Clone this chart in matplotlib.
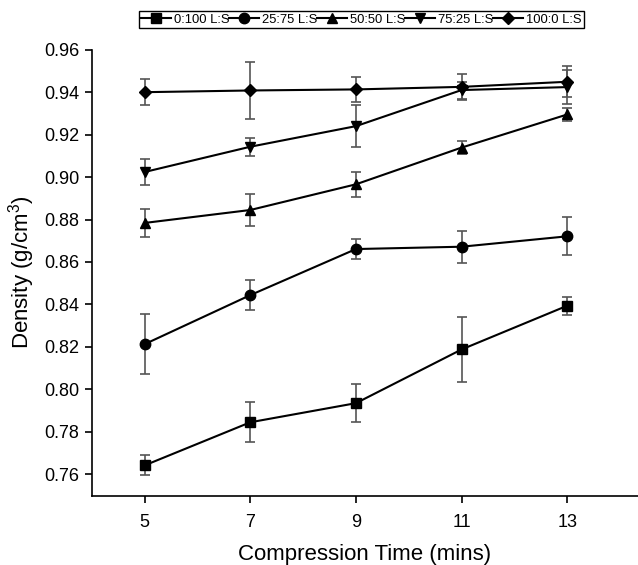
import numpy as np
import matplotlib.pyplot as plt

plt.rcParams['font.family'] = ['Liberation Sans', 'DejaVu Sans']
plt.rcParams['mathtext.default'] = 'regular'

# compression time (mins)
time = [5, 7, 9, 11, 13]

# mean density (g/cm3) for each L:S ratio
d_0_100 = [0.7642, 0.7845, 0.7935, 0.8188, 0.8394]
d_25_75 = [0.8213, 0.8444, 0.8661, 0.8672, 0.8721]
d_50_50 = [0.8784, 0.8845, 0.8966, 0.9139, 0.9295]
d_75_25 = [0.9024, 0.9143, 0.9240, 0.9410, 0.9424]
d_100_0 = [0.9400, 0.9408, 0.9413, 0.9425, 0.9449]

# standard deviations
e_0_100 = [0.0047, 0.0095, 0.0088, 0.0153, 0.0043]
e_25_75 = [0.0140, 0.0070, 0.0047, 0.0076, 0.0090]
e_50_50 = [0.0066, 0.0075, 0.0060, 0.0030, 0.0030]
e_75_25 = [0.0063, 0.0043, 0.0100, 0.0040, 0.0080]
e_100_0 = [0.0060, 0.0133, 0.0060, 0.0060, 0.0072]

labels = ['0:100 L:S', '25:75 L:S', '50:50 L:S', '75:25 L:S', '100:0 L:S']
markers = ['s', 'o', '^', 'v', 'D']
series = [d_0_100, d_25_75, d_50_50, d_75_25, d_100_0]
errors = [e_0_100, e_25_75, e_50_50, e_75_25, e_100_0]

fig = plt.figure(figsize=(6.38, 5.65), dpi=100)
ax = fig.add_axes([0.144, 0.123, 0.856, 0.789])

for y, e, m, lab in zip(series, errors, markers, labels):
    ax.errorbar(time, y, yerr=e, fmt='none', ecolor='#555555', elinewidth=1.2,
                capsize=3.5, capthick=1.2, zorder=2)
    ms = 6.5 if m == 'D' else 7.5
    ax.plot(time, y, color='black', marker=m, markersize=ms, linewidth=1.5,
            label=lab, zorder=3)

ax.set_xlim(4, 14.34)
ax.set_ylim(0.75, 0.96)
ax.set_xticks(time)
ax.set_yticks(np.arange(0.76, 0.961, 0.02))
ax.yaxis.set_major_formatter(plt.FormatStrFormatter('%.2f'))
ax.tick_params(direction='out', length=5, width=1.2, labelsize=13, pad=4)
ax.tick_params(axis='x', pad=8)

ax.spines['top'].set_visible(False)
ax.spines['right'].set_visible(False)
for s in ['left', 'bottom']:
    ax.spines[s].set_linewidth(1.2)

ax.set_xlabel('Compression Time (mins)', fontsize=16, labelpad=10)
ax.set_ylabel('Density (g/cm$^3$)', fontsize=16, labelpad=5)

leg = fig.legend(loc='center', bbox_to_anchor=(0.566, 0.965), ncol=5,
                 fontsize=9.4, markerscale=1.0, handlelength=2.3,
                 handletextpad=0.2, columnspacing=0.0, borderpad=0.2,
                 fancybox=False, edgecolor='black', framealpha=1)
leg.get_frame().set_linewidth(1.0)

fig.savefig('out.png', dpi=100)
